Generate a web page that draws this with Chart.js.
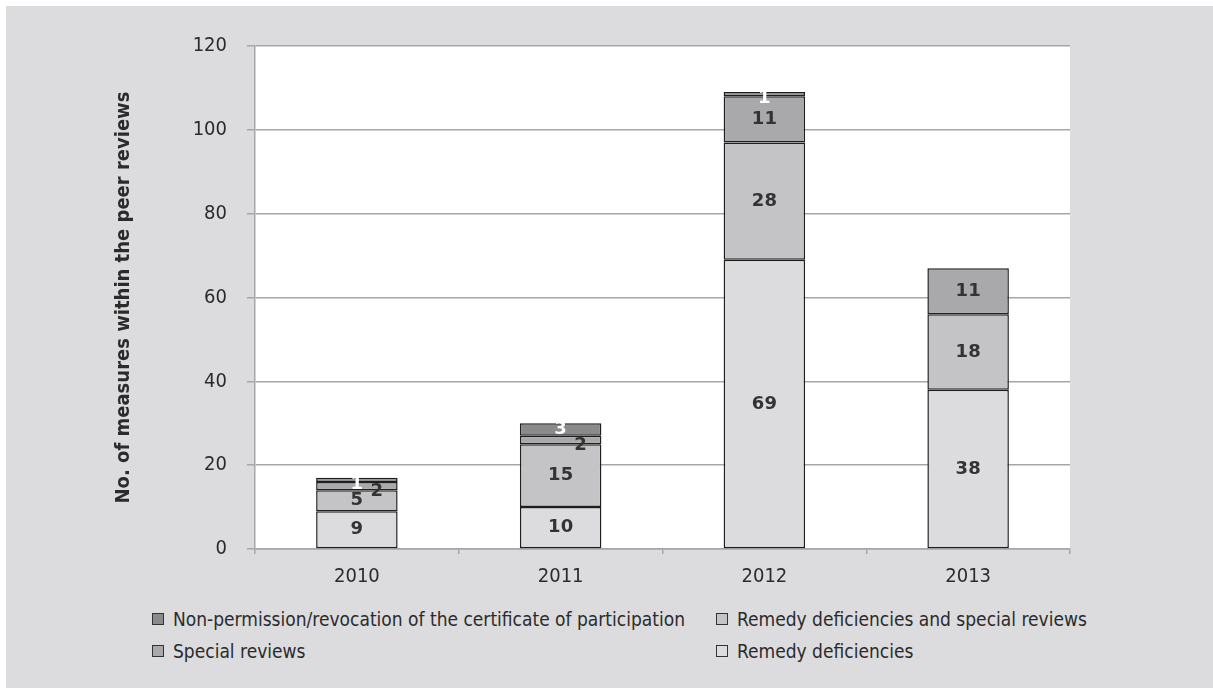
<!DOCTYPE html>
<html>
<head>
<meta charset="utf-8">
<script src="https://cdn.jsdelivr.net/npm/chart.js@4.4.1/dist/chart.umd.min.js"></script>
<style>
  html, body { margin: 0; padding: 0; background: #fff; }
  body { width: 1213px; height: 688px; position: relative; overflow: hidden; }
  #panel { position: absolute; left: 6px; top: 6px; right: 0; bottom: 0; background: #dcdcde; }
  #chart { position: absolute; left: 0; top: 0; }
  .legend { position: absolute; font-family: "Liberation Sans Narrow", "Arial Narrow", "DejaVu Sans Condensed", sans-serif;
            font-size: 19px; color: #2b2b2b; display: flex; align-items: center; white-space: nowrap; }
  .legend i { display: inline-block; width: 10px; height: 10px; border: 1.5px solid #333; margin-right: 9px; }
</style>
</head>
<body>
<div id="panel"></div>
<canvas id="chart" width="1213" height="600"></canvas>
<div id="legendBox"></div>
<script>
const years = ["2010", "2011", "2012", "2013"];
const remedyDeficiencies = [9, 10, 69, 38];
const remedyAndSpecial = [5, 15, 28, 18];
const specialReviews = [2, 2, 11, 11];
const nonPermission = [1, 3, 1, 0];
const yTicks = [0, 20, 40, 60, 80, 100, 120];

const narrow = "'Liberation Sans Narrow', 'Arial Narrow', 'DejaVu Sans Condensed', sans-serif";
const textColor = "#2b2b2b";

const series = [
  { label: "Remedy deficiencies", data: remedyDeficiencies, color: "#dcdcde", text: "#333" },
  { label: "Remedy deficiencies and special reviews", data: remedyAndSpecial, color: "#c4c4c6", text: "#333" },
  { label: "Special reviews", data: specialReviews, color: "#a9a9ab", text: "#333", nudge: [20, 5] },
  { label: "Non-permission/revocation of the certificate of participation", data: nonPermission, color: "#8a8a8c", text: "#fff", nudge: [0, 4] }
];

// white plot area on the grey panel
const plotBg = {
  id: "plotBg",
  beforeDraw(chart) {
    const { ctx, chartArea: a } = chart;
    ctx.save();
    ctx.fillStyle = "#fff";
    ctx.fillRect(a.left, a.top, a.right - a.left, a.bottom - a.top);
    ctx.restore();
  }
};

// value written in the middle of each segment
const segmentLabels = {
  id: "segmentLabels",
  afterDatasetsDraw(chart) {
    const ctx = chart.ctx;
    ctx.save();
    ctx.font = "bold 18px 'DejaVu Sans', sans-serif";
    ctx.textAlign = "center";
    ctx.textBaseline = "middle";
    chart.data.datasets.forEach((ds, i) => {
      const s = series[i];
      chart.getDatasetMeta(i).data.forEach((bar, j) => {
        const v = ds.data[j];
        if (!v) return;
        const { x, y, base } = bar.getProps(["x", "y", "base"], true);
        let dx = 0, dy = 0;
        if (s.nudge && Math.abs(base - y) < 10) { dx = s.nudge[0]; dy = s.nudge[1]; }
        ctx.fillStyle = s.text;
        ctx.fillText(String(v), x + dx, (y + base) / 2 + dy);
      });
    });
    ctx.restore();
  }
};

new Chart(document.getElementById("chart"), {
  type: "bar",
  data: {
    labels: years,
    datasets: series.map(s => ({
      label: s.label,
      data: s.data,
      backgroundColor: s.color,
      borderColor: "#1e1e1e",
      borderWidth: 1.5,
      borderSkipped: false,
      barPercentage: 0.4,
      categoryPercentage: 1.0
    }))
  },
  options: {
    responsive: false,
    animation: false,
    layout: { padding: { top: 46, right: 143, bottom: 0, left: 0 } },
    plugins: { legend: { display: false }, tooltip: { enabled: false } },
    scales: {
      x: {
        stacked: true,
        afterFit(scale) { scale.height = 51; },
        grid: { offset: true, drawOnChartArea: false, drawTicks: true, tickLength: 5, color: "#a6a6a6", lineWidth: 1.5 },
        border: { display: true, color: "#a6a6a6", width: 1.5 },
        ticks: { color: textColor, font: { family: narrow, size: 20 }, padding: 11 }
      },
      y: {
        stacked: true,
        min: 0,
        max: 120,
        afterFit(scale) { scale.width = 255; },
        afterBuildTicks(scale) { scale.ticks = yTicks.map(v => ({ value: v })); },
        grid: { color: "#a6a6a6", lineWidth: 1.5, tickLength: 8 },
        border: { display: true, color: "#a6a6a6", width: 1.5 },
        ticks: { color: textColor, font: { family: narrow, size: 20 }, padding: 20 },
        title: {
          display: true,
          text: "No. of measures within the peer reviews",
          color: textColor,
          font: { family: narrow, size: 20, weight: "bold" },
          padding: { top: 112, bottom: 0 }
        }
      }
    }
  },
  plugins: [plotBg, segmentLabels]
});

// legend in two columns, top series first
const legendItems = [
  { s: series[3], left: 152, top: 620 },
  { s: series[1], left: 716, top: 620 },
  { s: series[2], left: 152, top: 652 },
  { s: series[0], left: 716, top: 652 }
];
const legendBox = document.getElementById("legendBox");
legendItems.forEach(item => {
  const el = document.createElement("div");
  el.className = "legend";
  el.style.left = item.left + "px";
  el.style.top = (item.top - 12) + "px";
  el.innerHTML = `<i style="background:${item.s.color}"></i><span>${item.s.label}</span>`;
  legendBox.appendChild(el);
});
</script>
</body>
</html>
